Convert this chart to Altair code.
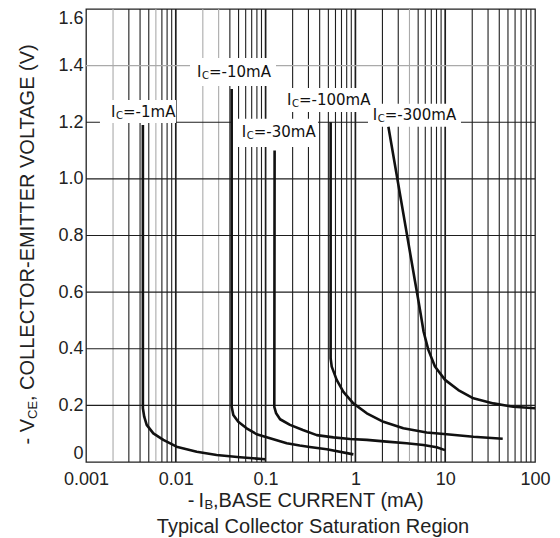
import altair as alt
import pandas as pd

# ---------------- data ----------------
ib_1mA = [0.0043, 0.0043, 0.00445, 0.00474, 0.00562, 0.00726, 0.0102, 0.0171, 0.0285, 0.0519, 0.0985]
vce_1mA = [1.19, 0.19, 0.16, 0.131, 0.101, 0.078, 0.054, 0.036, 0.025, 0.017, 0.0095]

ib_10mA = [0.0419, 0.0419, 0.0437, 0.0496, 0.0615, 0.0795, 0.112, 0.172, 0.24, 0.31, 0.48, 0.95]
vce_10mA = [1.317, 0.195, 0.166, 0.142, 0.119, 0.098, 0.084, 0.066, 0.058, 0.053, 0.045, 0.027]

ib_30mA = [0.126, 0.125, 0.131, 0.145, 0.187, 0.26, 0.371, 0.569, 0.871, 1.34, 2.23, 3.72, 5.71, 8.04, 9.96]
vce_30mA = [1.10, 0.195, 0.172, 0.151, 0.131, 0.113, 0.095, 0.087, 0.081, 0.078, 0.072, 0.066, 0.060, 0.052, 0.042]

ib_100mA = [0.53, 0.53, 0.545, 0.619, 0.735, 0.948, 1.34, 2.05, 3.42, 6.22, 10.4, 20.6, 43.7]
vce_100mA = [1.20, 0.366, 0.337, 0.290, 0.248, 0.207, 0.172, 0.142, 0.119, 0.104, 0.098, 0.089, 0.082]

ib_300mA = [2.33, 4.6, 5.0, 5.35, 5.75, 6.49, 7.69, 9.96, 14.0, 20.6, 34.4, 57.4, 100]
vce_300mA = [1.184, 0.64, 0.575, 0.52, 0.46, 0.396, 0.337, 0.290, 0.254, 0.225, 0.207, 0.195, 0.190]

curve_names = ["-1mA", "-10mA", "-30mA", "-100mA", "-300mA"]
curve_x = [ib_1mA, ib_10mA, ib_30mA, ib_100mA, ib_300mA]
curve_y = [vce_1mA, vce_10mA, vce_30mA, vce_100mA, vce_300mA]

# curve labels (left edge / vertical centre) and their white boxes
label_text = ["=-1mA", "=-10mA", "=-30mA", "=-100mA", "=-300mA"]
label_x = [0.0019, 0.0172, 0.0542, 0.173, 1.56]
label_y = [1.236, 1.378, 1.167, 1.279, 1.226]
box_x0 = [0.00143, 0.0144, 0.0423, 0.1446, 1.381]
box_x1 = [0.01005, 0.1306, 0.383, 1.786, 15.0]
box_y0 = [1.197, 1.328, 1.113, 1.236, 1.184]
box_y1 = [1.279, 1.427, 1.212, 1.321, 1.265]

x_ticks = [0.001, 0.01, 0.1, 1, 10, 100]
y_ticks = [0, 0.2, 0.4, 0.6, 0.8, 1.0, 1.2, 1.4, 1.6]

x_grid_decade = [0.01, 0.1, 1, 10]
x_grid_light = [0.002, 0.006, 0.02, 0.03, 4]
x_grid_minor = [round(m * 10 ** k, 6) for k in range(-3, 2) for m in range(2, 10)]
x_grid_dark = [v for v in x_grid_minor if v not in x_grid_light]
y_grid_dark = [0.2, 0.4, 0.6, 0.8, 1.0, 1.2]
y_grid_light = [1.4]

# ---------------- tables ----------------
rows = []
for name, xs_, ys_ in zip(curve_names, curve_x, curve_y):
    for i, (a, b) in enumerate(zip(xs_, ys_)):
        rows.append({"ic": name, "ib": a, "vce": b, "i": i})
df = pd.DataFrame(rows)

labels = pd.DataFrame({"x": label_x, "y": label_y, "rest": label_text})
boxes = pd.DataFrame({"x0": box_x0, "x1": box_x1, "y0": box_y0, "y1": box_y1})

xs = alt.Scale(type="log", domain=[0.001, 100], nice=False)
ys = alt.Scale(domain=[0, 1.6], nice=False)

X_AX = alt.Axis(
    values=x_ticks, format="~g", title=None, grid=False, ticks=False, domain=False,
    labelFont="Liberation Sans", labelFontSize=18, labelColor="#222",
    labelPadding=8, labelFlush=False,
)
Y_AX = alt.Axis(
    values=y_ticks, title=None, grid=False, ticks=False, domain=False,
    labelExpr="datum.value == 0 ? '0' : format(datum.value, '.1f')",
    labelFont="Liberation Sans", labelFontSize=18, labelColor="#222",
    labelPadding=3, labelFlush=True,
)

DARK = "#1e1e1e"
LIGHT = "#aaaaaa"


def vrules(vals, color, width):
    return alt.Chart(pd.DataFrame({"v": vals})).mark_rule(color=color, strokeWidth=width).encode(
        x=alt.X("v:Q", scale=xs, axis=X_AX)
    )


def hrules(vals, color, width):
    return alt.Chart(pd.DataFrame({"v": vals})).mark_rule(color=color, strokeWidth=width).encode(
        y=alt.Y("v:Q", scale=ys, axis=Y_AX)
    )


grid = (
    vrules(x_grid_light, LIGHT, 1.1)
    + vrules(x_grid_dark, DARK, 1.1)
    + vrules(x_grid_decade, DARK, 1.7)
    + hrules(y_grid_light, LIGHT, 1.1)
    + hrules(y_grid_dark, DARK, 1.1)
)

box_layer = alt.Chart(boxes).mark_rect(color="white").encode(
    x=alt.X("x0:Q", scale=xs, axis=X_AX),
    x2="x1:Q",
    y=alt.Y("y0:Q", scale=ys, axis=Y_AX),
    y2="y1:Q",
)

lines = alt.Chart(df).mark_line(color="#111111", strokeWidth=2.6, strokeJoin="round").encode(
    x=alt.X("ib:Q", scale=xs, axis=X_AX),
    y=alt.Y("vce:Q", scale=ys, axis=Y_AX),
    detail="ic:N",
    order="i:Q",
)

lab_font = "DejaVu Sans"
LX = alt.X("x:Q", scale=xs, axis=X_AX)
LY = alt.Y("y:Q", scale=ys, axis=Y_AX)
lab_I = alt.Chart(labels).mark_text(
    text="I", align="left", baseline="middle", font=lab_font, fontSize=15, color="#111"
).encode(x=LX, y=LY)
lab_C = alt.Chart(labels).mark_text(
    text="C", align="left", baseline="middle", font=lab_font, fontSize=10, color="#111", dx=5, dy=4
).encode(x=LX, y=LY)
lab_rest = alt.Chart(labels).mark_text(
    align="left", baseline="middle", font=lab_font, fontSize=15, color="#111", dx=12
).encode(x=LX, y=LY, text="rest:N")

one = pd.DataFrame({"a": [0]})
TF = "Liberation Sans"
TC = "#222"


def txt(text, x, y, size=20, **kw):
    return alt.Chart(one).mark_text(
        text=text, font=TF, fontSize=size, color=TC, baseline="middle", **kw
    ).encode(x=alt.value(x), y=alt.value(y))


# y title: "- V_CE, COLLECTOR-EMITTER VOLTAGE (V)"
y_title = (
    txt("- V", -58, 410, angle=270, align="right")
    + txt("CE", -58, 410, size=13, angle=270, align="left", dy=5)
    + txt(", COLLECTOR-EMITTER VOLTAGE (V)", -58, 410, angle=270, align="left", dx=18)
)
# x title: "-I_B,BASE CURRENT (mA)"
x_title = (
    txt("-\u2009I", 118, 492, align="right")
    + txt("B", 118, 492, size=13, align="left", dy=4, dx=0.5)
    + txt(",BASE CURRENT (mA)", 118, 492, align="left", dx=9)
)
sub_title = txt("Typical Collector Saturation Region", 227, 518, align="center")

chart = alt.layer(
    grid, box_layer, lines, lab_I, lab_C, lab_rest, y_title, x_title, sub_title
).properties(
    width=449,
    height=453,
    padding={"left": 78, "top": 1, "right": 17, "bottom": 76},
    autosize="none",
    background="white",
).configure_view(stroke="#222", strokeWidth=1.3)

chart.save("out.html", embed_options={"renderer": "svg", "actions": False})
